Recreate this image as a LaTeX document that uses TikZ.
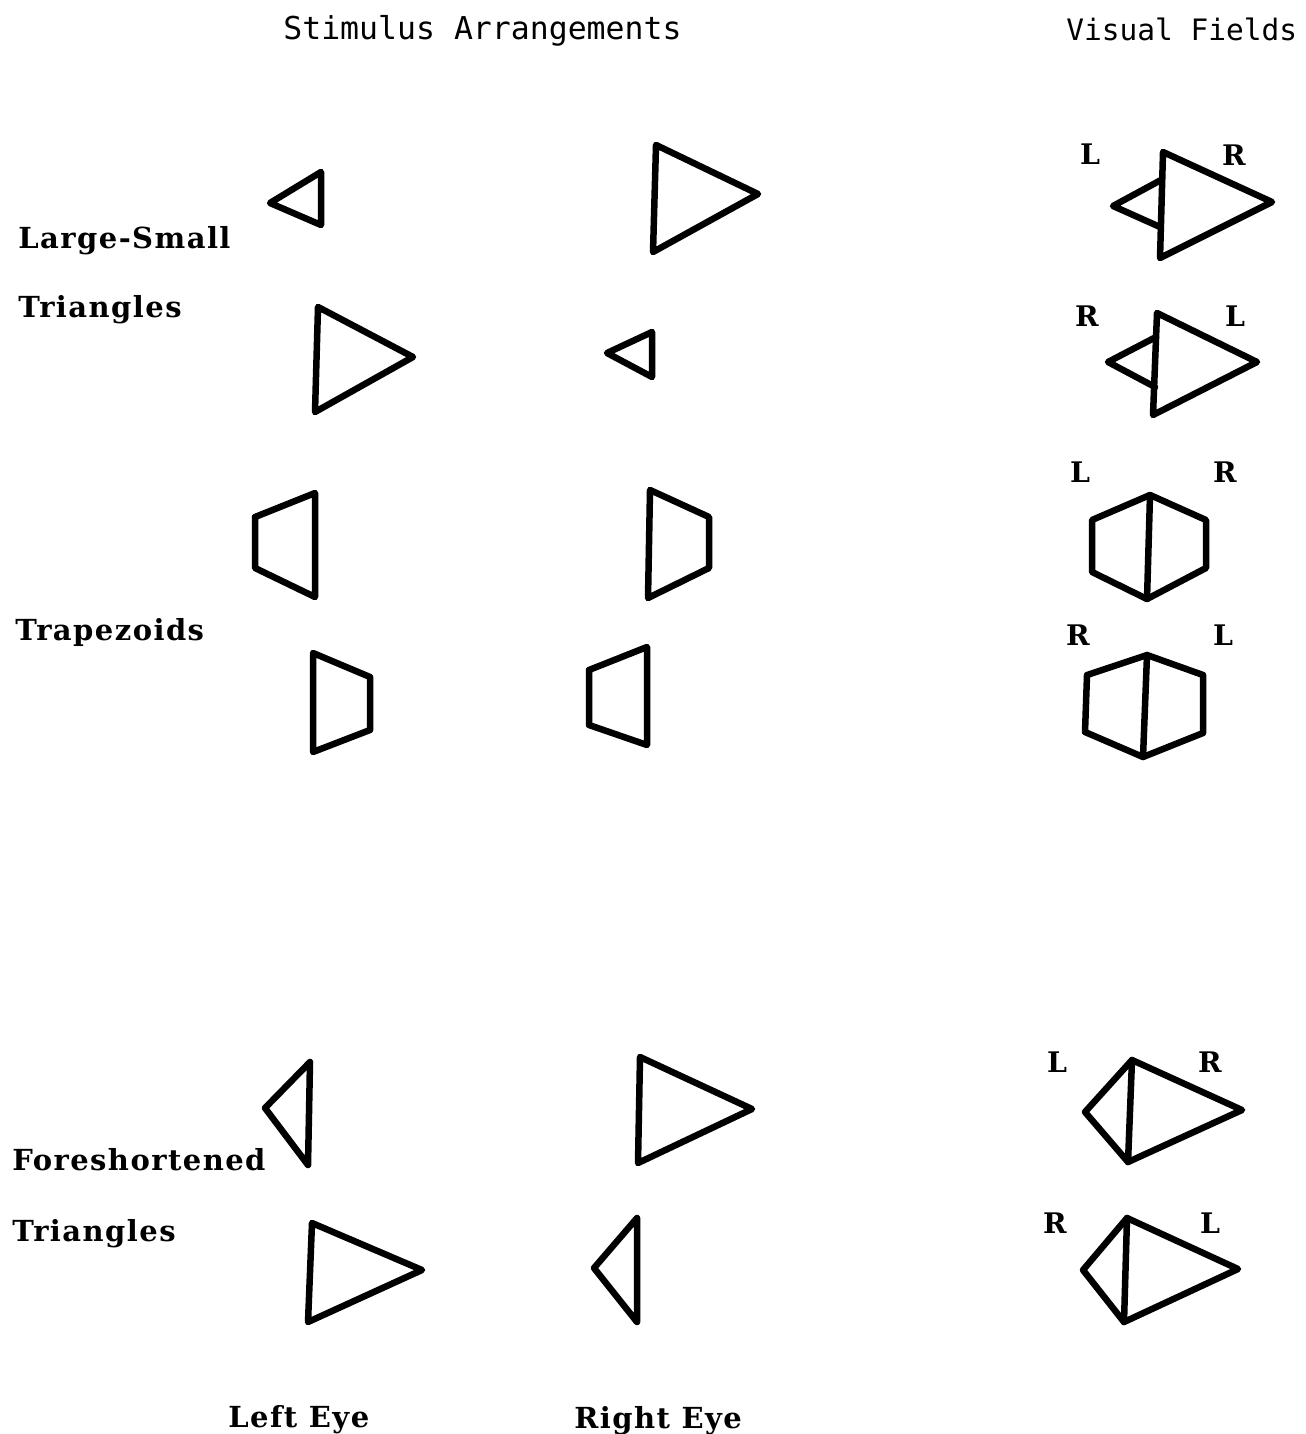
\documentclass[tikz,border=0pt]{standalone}
\usepackage{fontspec}
\newfontfamily\headfont{DejaVu Sans Mono}
\newfontfamily\labfont[LetterSpace=5]{DejaVu Serif}
\tikzset{
  fig/.style={draw=black, line width=3.9pt, line join=round, line cap=round},
  head/.style={anchor=base west, inner sep=0pt, font=\headfont\fontsize{18.9}{20}\selectfont},
  lab/.style={anchor=base west, inner sep=0pt, font=\labfont\bfseries\fontsize{17.4}{20}\selectfont},
  side/.style={anchor=center, inner sep=0pt, font=\labfont\bfseries\fontsize{17}{20}\selectfont},
}
\begin{document}
\begin{tikzpicture}[x=0.6pt,y=-0.6pt]
\useasboundingbox[fill=white] (0,0) rectangle (1305,1434);

% headings
\node[head] (hstim) at (283,40) {Stimulus Arrangements};
\node[head, font=\headfont\fontsize{17.7}{20}\selectfont] (hvis) at (1066,41) {Visual Fields};

% row labels
\node[lab] (lls1) at (18,249) {Large-Small};
\node[lab] (lls2) at (18,318) {Triangles};
\node[lab] (ltrap) at (15,640) {Trapezoids};
\node[lab] (lfs1) at (12,1170) {Foreshortened};
\node[lab] (lfs2) at (12,1241) {Triangles};
\node[lab] (lleft) at (228,1427) {Left Eye};
\node[lab] (lright) at (574,1428) {Right Eye};

% ---------- Large-Small triangles ----------
\draw[fig] (321,172) -- (270,203) -- (321,225) -- cycle;
\draw[fig] (656,145) -- (758,194) -- (653,252) -- cycle;
\draw[fig] (1163,152) -- (1272,202) -- (1160,258) -- cycle;
\draw[fig] (1161,180) -- (1113,206) -- (1160,227);
\node[side] (v1l) at (1090,154) {L};
\node[side] (v1r) at (1234,155) {R};

\draw[fig] (318,307) -- (413,357) -- (315,412) -- cycle;
\draw[fig] (652,332) -- (607,353) -- (652,377) -- cycle;
\draw[fig] (1157,313) -- (1257,362) -- (1153,415) -- cycle;
\draw[fig] (1156,337) -- (1108,362) -- (1155,387);
\node[side] (v2r) at (1087,316) {R};
\node[side] (v2l) at (1235,316) {L};

% ---------- Trapezoids ----------
\draw[fig] (315,493) -- (255,517) -- (255,568) -- (315,597) -- cycle;
\draw[fig] (650,490) -- (709,517) -- (709,568) -- (648,598) -- cycle;
\draw[fig] (1150,495) -- (1092,520) -- (1092,572) -- (1147,599) -- (1206,568) -- (1206,520) -- cycle;
\draw[fig] (1150,495) -- (1147,599);
\node[side] (v3l) at (1080,472) {L};
\node[side] (v3r) at (1225,472) {R};

\draw[fig] (313,653) -- (370,677) -- (370,730) -- (313,752) -- cycle;
\draw[fig] (647,647) -- (589,670) -- (589,725) -- (647,745) -- cycle;
\draw[fig] (1147,655) -- (1087,675) -- (1085,732) -- (1143,757) -- (1203,733) -- (1203,675) -- cycle;
\draw[fig] (1147,655) -- (1143,757);
\node[side] (v4r) at (1078,635) {R};
\node[side] (v4l) at (1223,635) {L};

% ---------- Foreshortened triangles ----------
\draw[fig] (310,1062) -- (265,1108) -- (308,1165) -- cycle;
\draw[fig] (640,1057) -- (752,1109) -- (638,1163) -- cycle;
\draw[fig] (1132,1060) -- (1085,1112) -- (1128,1162) -- (1242,1110) -- cycle;
\draw[fig] (1132,1060) -- (1128,1162);
\node[side] (v5l) at (1057,1062) {L};
\node[side] (v5r) at (1210,1062) {R};

\draw[fig] (312,1223) -- (422,1270) -- (308,1322) -- cycle;
\draw[fig] (637,1218) -- (594,1268) -- (637,1322) -- cycle;
\draw[fig] (1127,1218) -- (1083,1270) -- (1124,1322) -- (1238,1269) -- cycle;
\draw[fig] (1127,1218) -- (1124,1322);
\node[side] (v6r) at (1055,1223) {R};
\node[side] (v6l) at (1210,1223) {L};
\end{tikzpicture}
\end{document}
